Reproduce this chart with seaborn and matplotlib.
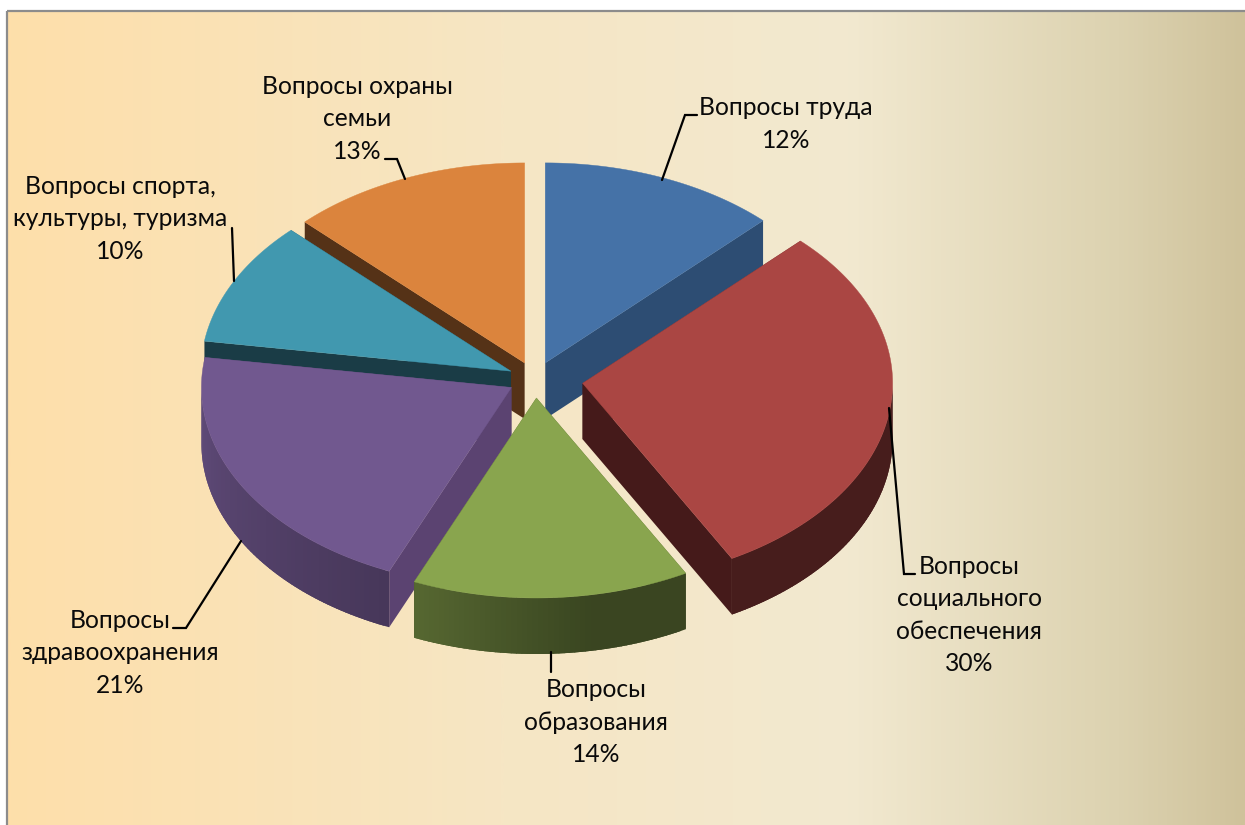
import numpy as np
import matplotlib
matplotlib.use("Agg")
import matplotlib.pyplot as plt
from matplotlib.colors import LinearSegmentedColormap
from matplotlib.patches import Polygon, Rectangle
import seaborn as sns

# ---- data ----
names = ["Вопросы труда", "Вопросы\nсоциального\nобеспечения", "Вопросы\nобразования",
         "Вопросы\nздравоохранения", "Вопросы спорта,\nкультуры, туризма", "Вопросы охраны\nсемьи"]
shares = [12.4, 29.6, 14.45, 20.95, 10.05, 12.55]
explode = [0.087, 0.155, 0.095, 0.087, 0.087, 0.087]
top_colors = ["#4572A7", "#AA4643", "#89A54E", "#71588F", "#4198AF", "#DB843D"]
side_colors = ["#2D4D73", "#451A1A", "#38431C", "#5B4371", "#1A3C46", "#553217"]

# ---- layout ----
W, H = 1245, 825
CX, CY, RX, RY, DEPTH = 535, 379, 310, 200, 56
draw_order = [5, 0, 4, 3, 1, 2]
label_centers = [(786, 124), (969, 615), (596, 722), (120, 653), (120, 219), (357, 119)]
leaders = [
    [(697, 115), (685, 115), (662, 180)],
    [(915, 574), (904, 574), (889, 408)],
    [(551, 652), (551, 672)],
    [(173, 628), (186, 628), (241, 541)],
    [(232, 228), (234, 281)],
    [(385, 159), (397, 159), (405, 179)],
]

sns.set_theme(style="white")
plt.rcParams["font.family"] = ["Lato", "Noto Sans", "DejaVu Sans"]
palette = sns.color_palette(top_colors)
dark = sns.color_palette(side_colors)

fig = plt.figure(figsize=(W / 100, H / 100), dpi=100, facecolor="white")
ax = fig.add_axes([0, 0, 1, 1])
ax.set_axis_off()

# background
stops = [(0.0, "#FEDFAA"), (0.40, "#F6E6C4"), (0.68, "#F2E9D0"), (0.90, "#DCD2B0"), (1.0, "#CFC29B")]
cmap = LinearSegmentedColormap.from_list("bg", stops)
ax.imshow(np.linspace(0, 1, 512)[None, :], cmap=cmap, extent=(7, W, H, 11), aspect="auto", zorder=0)
ax.add_patch(Rectangle((7, 11), W + 10, H, fill=False, ec="#8C8C8C", lw=1.6, zorder=1))
ax.set_xlim(0, W)
ax.set_ylim(H, 0)


def rim(ax0, ay0, deg):
    t = np.deg2rad(deg)
    return np.column_stack([ax0 + RX * np.sin(t), ay0 - RY * np.cos(t)])


def wall_light(deg):
    return np.interp(deg, [90, 170, 201.6, 270], [0.42, 0.42, 0.62, 0.85])


edges = np.concatenate([[0], np.cumsum(shares)]) / np.sum(shares) * 360
z = 2
for i in draw_order:
    a0, a1 = edges[i], edges[i + 1]
    mid = np.deg2rad((a0 + a1) / 2)
    ax0 = CX + explode[i] * RX * np.sin(mid)
    ay0 = CY - explode[i] * RY * np.cos(mid)
    apex = np.array([[ax0, ay0]])
    down = np.array([0, DEPTH])
    # cut faces
    for a in (a0, a1):
        p = rim(ax0, ay0, a)
        quad = np.vstack([apex, p, p + down, apex + down])
        ax.add_patch(Polygon(quad, closed=True, fc=dark[i], ec="none", zorder=z))
    # outer wall, shaded strip by strip; each strip overlaps the next to hide seams
    lo, hi = max(a0, 90), min(a1, 270)
    if hi > lo:
        cuts = np.linspace(lo, hi, int(hi - lo) + 2)
        step = cuts[1] - cuts[0]
        for s in cuts[:-1]:
            e = min(s + 2.2 * step, hi)
            arc = rim(ax0, ay0, np.linspace(s, e, 4))
            col = np.array(palette[i]) * wall_light(s + step / 2)
            ax.add_patch(Polygon(np.vstack([arc, arc[::-1] + down]), closed=True,
                                 fc=col, ec="none", zorder=z))
    # top
    arc = rim(ax0, ay0, np.linspace(a0, a1, 200))
    ax.add_patch(Polygon(np.vstack([apex, arc]), closed=True, fc=palette[i], ec=palette[i],
                         lw=0.3, zorder=z + 0.5))
    z += 1

for i, name in enumerate(names):
    xs, ys = zip(*leaders[i])
    ax.plot(xs, ys, color="black", lw=1.6, zorder=20, solid_joinstyle="miter")
    ax.text(label_centers[i][0], label_centers[i][1], f"{name}\n{round(shares[i])}%",
            ha="center", va="center", ma="center", fontsize=17.7, linespacing=1.5,
            color="#0A0A0A", zorder=21)

fig.savefig("out.png", dpi=100)
